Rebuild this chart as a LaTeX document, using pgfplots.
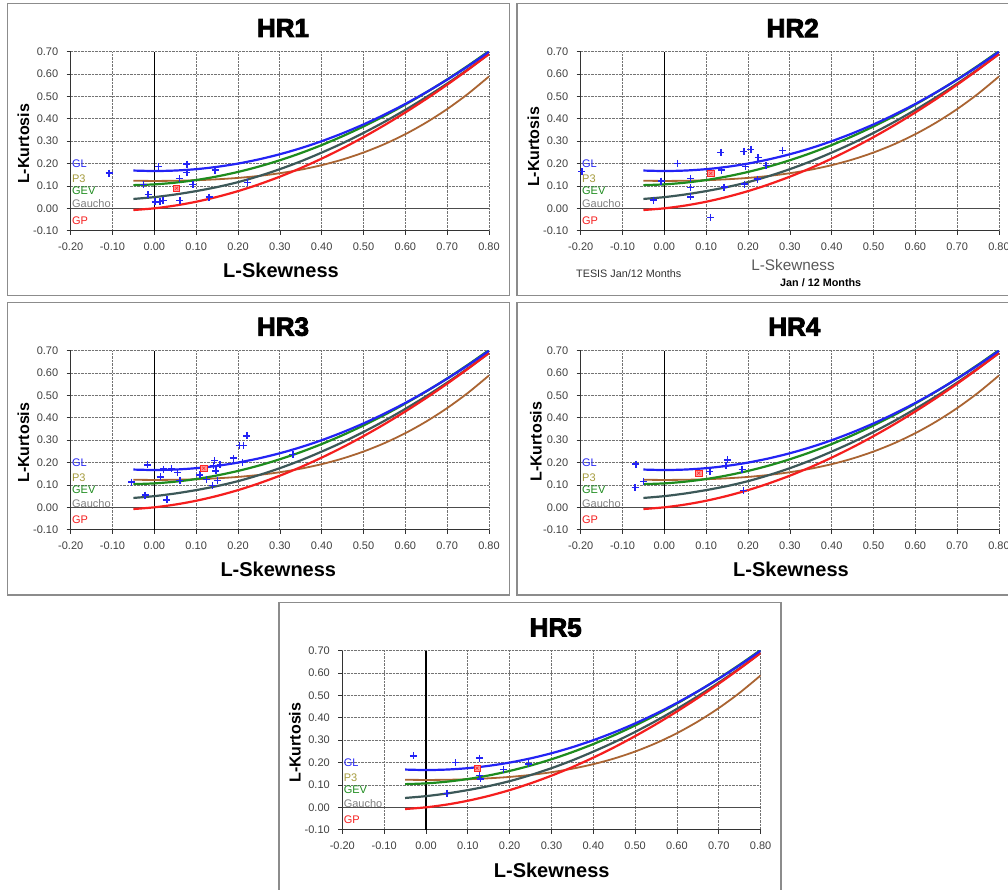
\documentclass[border=0pt]{standalone}
\usepackage{fontspec}
\setmainfont{Liberation Sans}
\usepackage{pgfplots}
\usepackage{pgfplotstable}
\pgfplotsset{compat=1.18}

\definecolor{glblue}{RGB}{35,35,245}
\definecolor{p3brown}{RGB}{170,100,50}
\definecolor{p3text}{RGB}{165,155,60}
\definecolor{gevgreen}{RGB}{30,140,30}
\definecolor{gaugray}{RGB}{60,88,88}
\definecolor{gpred}{RGB}{245,30,30}

% heavier title text: fill + stroke
\newcommand\heavy[1]{\special{pdf:literal direct 2 Tr 0.9 w}#1\special{pdf:literal direct 0 Tr}}

% theoretical L-moment ratio curves
\pgfplotstableread{
x      gl      p3      gev     gau     gp
-0.05  0.1688  0.1232  0.1036  0.0419  -0.0076
0.00   0.1667  0.1224  0.1070  0.0500  0.0000
0.05   0.1688  0.1232  0.1147  0.0619  0.0124
0.10   0.1750  0.1255  0.1265  0.0770  0.0294
0.15   0.1854  0.1297  0.1425  0.0950  0.0510
0.20   0.2000  0.1359  0.1626  0.1170  0.0769
0.25   0.2188  0.1448  0.1867  0.1440  0.1071
0.30   0.2417  0.1569  0.2148  0.1750  0.1415
0.35   0.2688  0.1727  0.2468  0.2100  0.1799
0.40   0.3000  0.1929  0.2827  0.2490  0.2222
0.45   0.3354  0.2182  0.3224  0.2910  0.2683
0.50   0.3750  0.2494  0.3659  0.3370  0.3182
0.55   0.4188  0.2869  0.4130  0.3865  0.3716
0.60   0.4667  0.3314  0.4638  0.4400  0.4286
0.65   0.5188  0.3836  0.5182  0.4969  0.4889
0.70   0.5750  0.4436  0.5762  0.5575  0.5526
0.75   0.6354  0.5121  0.6378  0.6219  0.6196
0.80   0.7000  0.5894  0.7030  0.6900  0.6897
}\curves

% sample points, one table per region
\pgfplotstableread{
x y
-0.108 0.157
0.010 0.186
0.078 0.198
0.078 0.161
0.060 0.132
0.145 0.171
-0.026 0.106
0.092 0.107
0.222 0.115
-0.015 0.061
0.002 0.029
0.013 0.030
0.021 0.035
0.061 0.034
0.131 0.050
}\hrone

\pgfplotstableread{
x y
-0.197 0.164
-0.026 0.037
0.032 0.201
-0.008 0.122
0.063 0.134
0.063 0.093
0.063 0.051
0.135 0.250
0.137 0.171
0.143 0.095
0.110 -0.041
0.190 0.255
0.207 0.263
0.194 0.188
0.224 0.227
0.243 0.191
0.282 0.259
0.191 0.108
0.222 0.131
}\hrtwo

\pgfplotstableread{
x y
-0.054 0.113
-0.016 0.190
-0.022 0.055
0.014 0.136
0.022 0.171
0.041 0.173
0.056 0.156
0.061 0.120
0.030 0.033
0.109 0.145
0.125 0.125
0.139 0.098
0.144 0.209
0.141 0.187
0.147 0.163
0.151 0.121
0.157 0.192
0.189 0.220
0.204 0.276
0.213 0.276
0.221 0.319
0.211 0.200
0.331 0.235
}\hrthree

\pgfplotstableread{
x y
-0.068 0.193
-0.050 0.116
-0.070 0.089
0.084 0.153
0.109 0.160
0.147 0.187
0.151 0.212
0.186 0.168
0.189 0.075
}\hrfour

\pgfplotstableread{
x y
-0.030 0.230
0.070 0.200
0.128 0.220
0.185 0.168
0.245 0.194
0.128 0.142
0.130 0.127
0.050 0.063
}\hrfive

\newcommand\lbl{\fontsize{11}{12}\selectfont}

\pgfplotsset{
  hrpanel/.style={
    scale only axis, width=418.3pt, height=179pt,
    anchor=north west,
    xmin=-0.2, xmax=0.8, ymin=-0.1, ymax=0.7,
    xtick={-0.2,-0.1,0,0.1,0.2,0.3,0.4,0.5,0.6,0.7,0.8},
    ytick={-0.1,0,0.1,0.2,0.3,0.4,0.5,0.6,0.7},
    axis x line*=bottom, axis y line*=left,
    axis line style={-, black!80, line width=0.8pt},
    tick align=outside, major tick length=4pt,
    tick style={black!80, line width=0.7pt},
    grid=major, grid style={densely dotted, black!55, line width=0.8pt},
    xticklabel style={yshift=-5pt}, yticklabel style={xshift=-5pt},
    tick label style={font=\lbl, text=black!75},
    /pgf/number format/fixed, /pgf/number format/fixed zerofill,
    /pgf/number format/precision=2, /pgf/number format/assume math mode=true,
  },
  curve/.style={line width=2.2pt, smooth, no marks},
}

\newcommand\hrcurves{%
  \draw[black!70, line width=1pt] (axis cs:-0.2,0) -- (axis cs:0.8,0);
  \draw[black, line width=1.1pt] (axis cs:0,-0.1) -- (axis cs:0,0.7);
  \addplot[p3brown, curve, line width=1.8pt] table[x=x, y=p3] {\curves};
  \addplot[gaugray, curve] table[x=x, y=gau] {\curves};
  \addplot[gpred, curve] table[x=x, y=gp] {\curves};
  \addplot[gevgreen, curve] table[x=x, y=gev] {\curves};
  \addplot[glblue, curve] table[x=x, y=gl] {\curves};
  \node[anchor=west, text=glblue, font=\lbl, inner sep=0pt] at (axis cs:-0.197,0.200) {GL};
  \node[anchor=west, text=p3text, font=\lbl, inner sep=0pt] at (axis cs:-0.197,0.134) {P3};
  \node[anchor=west, text=gevgreen, font=\lbl, inner sep=0pt] at (axis cs:-0.197,0.079) {GEV};
  \node[anchor=west, text=black!50, font=\lbl, inner sep=0pt] at (axis cs:-0.197,0.019) {Gaucho};
  \node[anchor=west, text=gpred, font=\lbl, inner sep=0pt] at (axis cs:-0.197,-0.055) {GP};
}
\newcommand\hrpoints[1]{%
  \addplot[only marks, mark=+, mark size=3.5pt, draw=glblue, mark options={draw=glblue, line width=1.4pt}] table {#1};
}
\newcommand\hrmean[2]{%
  \addplot[only marks, mark=square*, mark size=3.2pt, mark options={fill=red!40, draw=red!85, line width=0.6pt}] coordinates {(#1,#2)};
  \addplot[only marks, mark=x, mark size=2.2pt, mark options={draw=red!85, line width=0.5pt}] coordinates {(#1,#2)};
}

\begin{document}
\begin{tikzpicture}
\path[use as bounding box, fill=white] (0,0) rectangle (1008pt,-890pt);

% panel frames
\begin{scope}[draw=black!45, line width=1.3pt]
\draw (7.5pt,-3.5pt) rectangle (509.5pt,-295.5pt);
\draw (517pt,-3.5pt) rectangle (1015pt,-295.5pt);
\draw (7.5pt,-302.5pt) rectangle (509.5pt,-595pt);
\draw (517pt,-302.5pt) rectangle (1015pt,-595pt);
\draw (279pt,-602.5pt) rectangle (781pt,-900pt);
\end{scope}

% HR1
\begin{axis}[hrpanel, at={(70.7pt,-51.7pt)}]
\hrcurves
\hrpoints{\hrone}
\hrmean{0.053}{0.090}
\end{axis}

% HR2
\begin{axis}[hrpanel, at={(580.7pt,-51.7pt)}]
\hrcurves
\hrpoints{\hrtwo}
\hrmean{0.111}{0.156}
\end{axis}

% HR3
\begin{axis}[hrpanel, at={(70.7pt,-350.7pt)}]
\hrcurves
\hrpoints{\hrthree}
\hrmean{0.118}{0.175}
\end{axis}

% HR4
\begin{axis}[hrpanel, at={(580.7pt,-350.7pt)}]
\hrcurves
\hrpoints{\hrfour}
\hrmean{0.082}{0.153}
\end{axis}

% HR5
\begin{axis}[hrpanel, at={(342.3pt,-650.7pt)}]
\hrcurves
\hrpoints{\hrfive}
\hrmean{0.122}{0.175}
\end{axis}

% y labels
\begin{scope}[every node/.style={rotate=90, font=\bfseries\fontsize{16}{18}\selectfont}]
\node at (23.3pt,-143.8pt) {L-Kurtosis};
\node at (533.3pt,-147pt) {L-Kurtosis};
\node at (23.3pt,-442.7pt) {L-Kurtosis};
\node at (536pt,-441.7pt) {L-Kurtosis};
\node at (295pt,-742.7pt) {L-Kurtosis};
\end{scope}

% x labels
\begin{scope}[every node/.style={font=\bfseries\fontsize{20}{22}\selectfont}]
\node at (281pt,-270.7pt) {L-Skewness};
\node at (278.3pt,-569.3pt) {L-Skewness};
\node at (791pt,-569.3pt) {L-Skewness};
\node at (551.7pt,-870pt) {L-Skewness};
\end{scope}
\node[font=\fontsize{15.3}{17}\selectfont, text=black!65] at (793pt,-265pt) {L-Skewness};
\node[font=\fontsize{10.8}{12}\selectfont, text=black!80, anchor=west, inner sep=0pt] at (576pt,-274pt) {TESIS Jan/12 Months};
\node[font=\bfseries\fontsize{10.8}{12}\selectfont, anchor=west, inner sep=0pt] at (780pt,-282.7pt) {Jan / 12 Months};

% titles
\begin{scope}[every node/.style={font=\bfseries\fontsize{26}{28}\selectfont}]
\node at (283pt,-28pt) {\heavy{HR1}};
\node at (792.7pt,-28pt) {\heavy{HR2}};
\node at (283pt,-326.7pt) {\heavy{HR3}};
\node at (794.3pt,-326.7pt) {\heavy{HR4}};
\node at (555.7pt,-627.7pt) {\heavy{HR5}};
\end{scope}
\end{tikzpicture}
\end{document}
